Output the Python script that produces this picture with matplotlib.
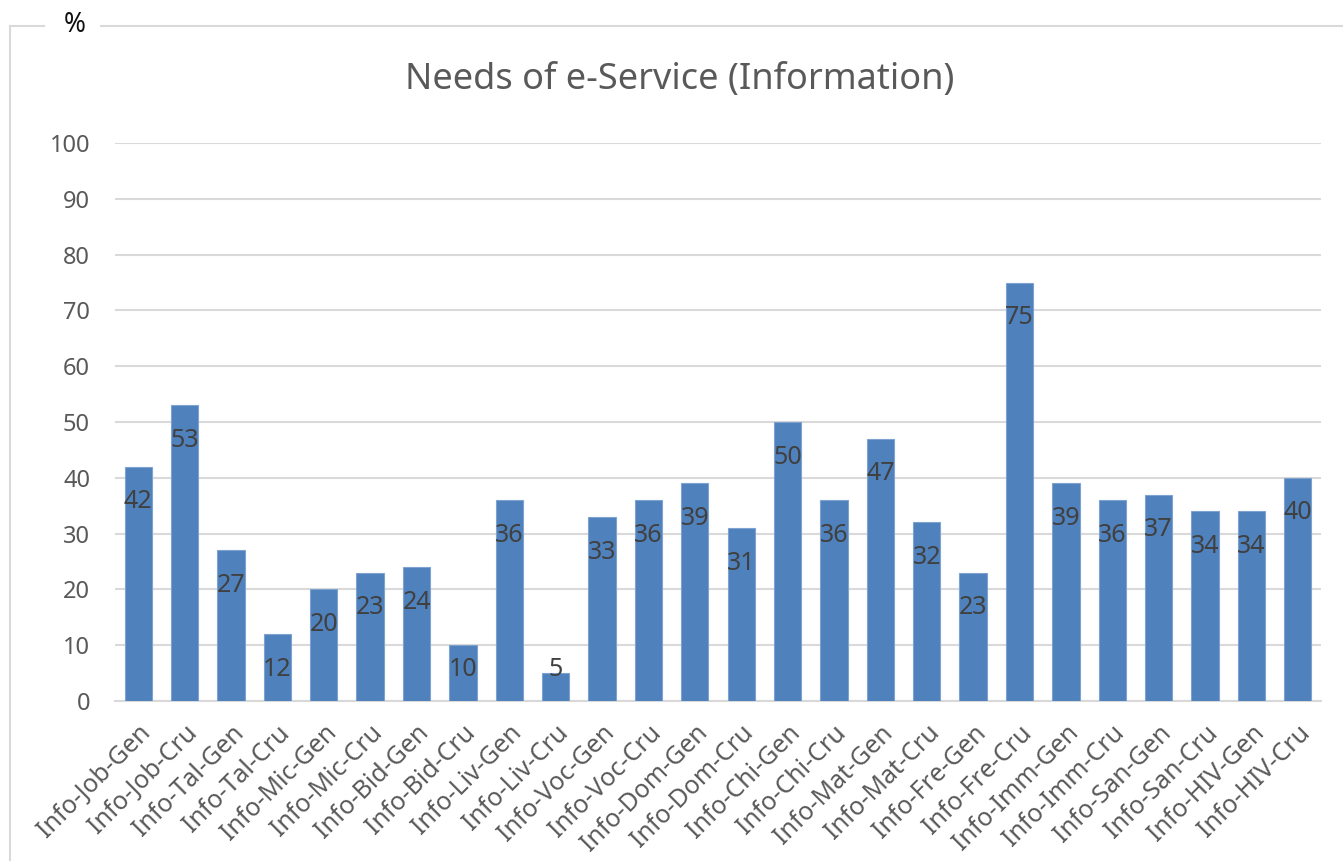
import matplotlib
matplotlib.use("Agg")
import matplotlib.pyplot as plt
from matplotlib.lines import Line2D
import numpy as np

categories = ["Info-Job-Gen", "Info-Job-Cru", "Info-Tal-Gen", "Info-Tal-Cru", "Info-Mic-Gen",
              "Info-Mic-Cru", "Info-Bid-Gen", "Info-Bid-Cru", "Info-Liv-Gen", "Info-Liv-Cru",
              "Info-Voc-Gen", "Info-Voc-Cru", "Info-Dom-Gen", "Info-Dom-Cru", "Info-Chi-Gen",
              "Info-Chi-Cru", "Info-Mat-Gen", "Info-Mat-Cru", "Info-Fre-Gen", "Info-Fre-Cru",
              "Info-Imm-Gen", "Info-Imm-Cru", "Info-San-Gen", "Info-San-Cru", "Info-HIV-Gen",
              "Info-HIV-Cru"]
values = [42, 53, 27, 12, 20, 23, 24, 10, 36, 5, 33, 36, 39, 31, 50, 36, 47, 32, 23, 75,
          39, 36, 37, 34, 34, 40]
yticks = [0, 10, 20, 30, 40, 50, 60, 70, 80, 90, 100]

plt.rcParams['font.family'] = ['Noto Sans', 'DejaVu Sans']
W, H = 1343, 861
fig = plt.figure(figsize=(W / 100, H / 100), dpi=100)
ax = fig.add_axes([115 / W, 1 - 701 / H, (1321 - 115) / W, (701 - 143) / H])

x = np.arange(len(categories))
ax.bar(x, values, width=0.59, color="#4F81BD", edgecolor="#7FA3D0", linewidth=0.8, zorder=3)
ax.set_xlim(-0.5, len(categories) - 0.5)
ax.set_ylim(0, 100)
ax.set_yticks(yticks)
ax.set_yticklabels([str(t) for t in yticks], fontsize=17, color="#595959")
ax.set_xticks(x)
ax.set_xticklabels(categories, rotation=45, ha="right", va="top", rotation_mode="anchor",
                   fontsize=18, color="#595959")
ax.tick_params(axis="both", length=0)
ax.tick_params(axis="y", pad=18)
ax.tick_params(axis="x", pad=14)
ax.grid(axis="y", color="#D9D9D9", linewidth=1.5, zorder=0)
for s in ["top", "right", "left"]:
    ax.spines[s].set_visible(False)
ax.spines["bottom"].set_color("#D9D9D9")
ax.spines["bottom"].set_linewidth(1.5)

for xi, v in zip(x, values):
    ypos = max(v - 6.3, 5.7)
    ax.text(xi, ypos, str(v), ha="center", va="center", fontsize=18, color="#404040", zorder=4)

fig.text(680 / W, 1 - 80 / H, "Needs of e-Service (Information)", ha="center", va="center",
         fontsize=26, color="#595959")
fig.text(75 / W, 1 - 25 / H, "%", ha="center", va="center", fontsize=19, color="#111111")

bc = "#D9D9D9"
fig.add_artist(Line2D([10 / W, 10 / W], [1 - 26 / H, 0], transform=fig.transFigure, color=bc, lw=1.5))
fig.add_artist(Line2D([10 / W, 44 / W], [1 - 26 / H, 1 - 26 / H], transform=fig.transFigure, color=bc, lw=1.5))
fig.add_artist(Line2D([101 / W, 1], [1 - 26 / H, 1 - 26 / H], transform=fig.transFigure, color=bc, lw=1.5))

fig.savefig("out.png", dpi=100)
